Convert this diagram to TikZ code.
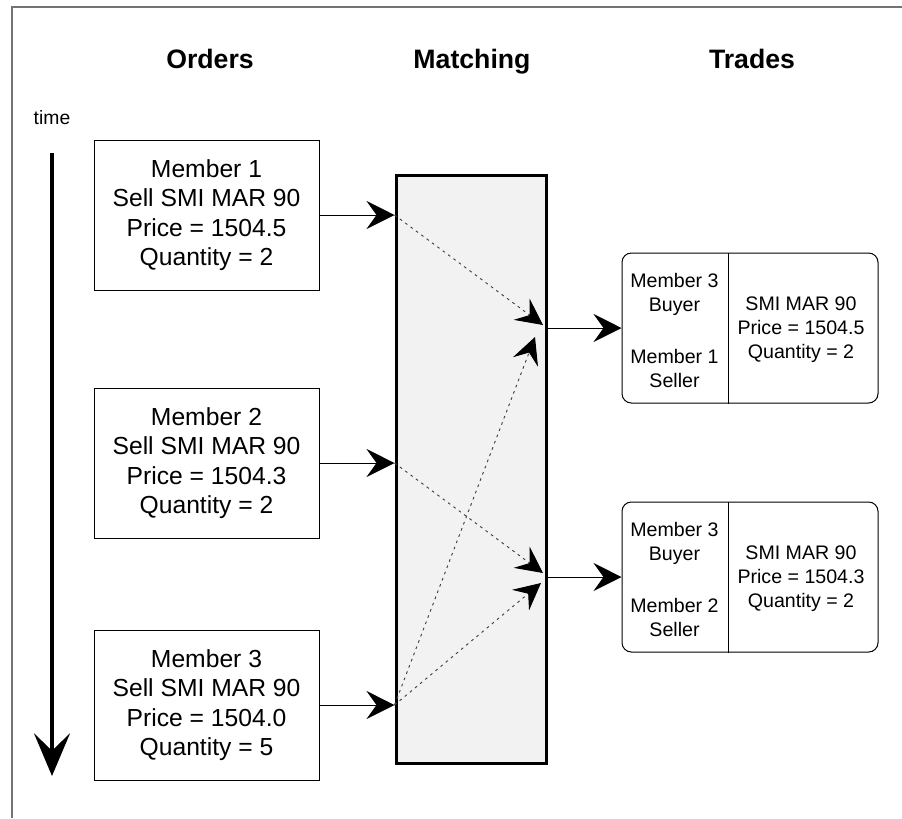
\documentclass[tikz,border=0pt]{standalone}
\usepackage{fontspec}
\setmainfont{Liberation Sans}
\usetikzlibrary{arrows.meta}

\tikzset{
  orderbox/.style={draw, line width=0.75pt, minimum width=168.75pt, minimum height=112.5pt,
    align=center, font=\fontsize{18.5}{22}\selectfont},
  tradebox/.style={draw, line width=0.75pt, rounded corners=7pt, minimum width=192pt, minimum height=112.5pt},
  tradetext/.style={align=center, inner sep=0pt, font=\fontsize{14.7}{18}\selectfont},
  heading/.style={anchor=base, font=\fontsize{20}{24}\selectfont\bfseries},
  feed/.style={line width=0.75pt, -{Stealth[length=21pt,width=21pt,inset=7.5pt]}},
  matchline/.style={line width=0.7pt, draw=black!75, dash pattern=on 2pt off 3pt,
    -{Stealth[length=20pt,width=20pt,inset=7.5pt,color=black]}},
}

\begin{document}
\begin{tikzpicture}[x=0.75pt,y=0.75pt,yscale=-1]
\useasboundingbox (0,0) rectangle (902,818);

% frame
\draw [color=black!55, line width=1.2pt] (12,818) -- (12,7) -- (902,7) ;

% headings
\node [heading] (hOrders) at (210,68) {Orders};
\node [heading] (hMatching) at (472,68) {Matching};
\node [heading] (hTrades) at (752,68) {Trades};

% time axis
\node [anchor=base, font=\fontsize{14.5}{17}\selectfont] (time) at (52,124) {time};
\coordinate (tstart) at (52,153);
\coordinate (tend) at (52,776);
\draw [line width=3pt, -{Stealth[length=32pt,width=27pt,inset=13pt]}] (tstart) -- (tend) ;

% orders
\node [orderbox] (o1) at (206.5,215) {Member 1\\Sell SMI MAR 90\\Price = 1504.5\\Quantity = 2};
\node [orderbox] (o2) at (206.5,463) {Member 2\\Sell SMI MAR 90\\Price = 1504.3\\Quantity = 2};
\node [orderbox] (o3) at (206.5,705) {Member 3\\Sell SMI MAR 90\\Price = 1504.0\\Quantity = 5};

% matching engine
\node [draw, line width=2.25pt, fill=black!5, minimum width=112.5pt, minimum height=441pt] (m) at (471,469) {};

% trades
\node [tradebox] (t1) at (750,328) {};
\draw [line width=0.75pt] ([xshift=-16.5pt]t1.north) -- ([xshift=-16.5pt]t1.south) ;
\node [tradetext] (t1buy) at (674.5,294) {Member 3\\Buyer};
\node [tradetext] (t1sell) at (674.5,368) {Member 1\\Seller};
\node [tradetext] (t1deal) at (801,330) {SMI MAR 90\\Price = 1504.5\\Quantity = 2};

\node [tradebox] (t2) at (750,577) {};
\draw [line width=0.75pt] ([xshift=-16.5pt]t2.north) -- ([xshift=-16.5pt]t2.south) ;
\node [tradetext] (t2buy) at (674.5,543) {Member 3\\Buyer};
\node [tradetext] (t2sell) at (674.5,617) {Member 2\\Seller};
\node [tradetext] (t2deal) at (801,579) {SMI MAR 90\\Price = 1504.3\\Quantity = 2};

% order flow
\draw [feed] (o1.east) -- (o1.east -| m.west) ;
\draw [feed] (o2.east) -- (o2.east -| m.west) ;
\draw [feed] (o3.east) -- (o3.east -| m.west) ;
\draw [feed] (m.east |- t1.west) -- (t1.west) ;
\draw [feed] (m.east |- t2.west) -- (t2.west) ;

% matches
\coordinate (e1a) at (543,325);
\coordinate (e1b) at (535,337);
\coordinate (e2a) at (543,573);
\coordinate (e2b) at (541,583);
\draw [matchline] (o1.east -| m.west) -- (e1a) ;
\draw [matchline] (o3.east -| m.west) -- (e1b) ;
\draw [matchline] (o2.east -| m.west) -- (e2a) ;
\draw [matchline] (o3.east -| m.west) -- (e2b) ;

\end{tikzpicture}
\end{document}
